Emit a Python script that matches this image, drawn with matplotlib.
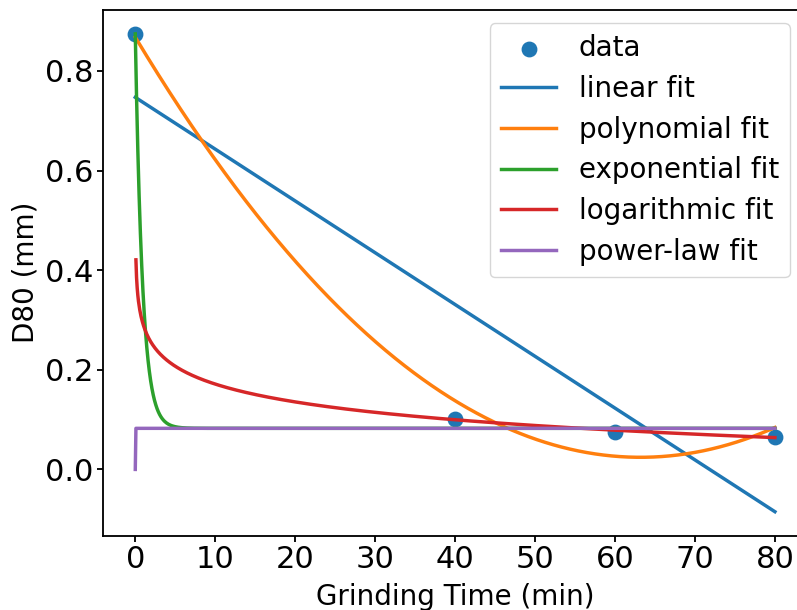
import numpy as np
import matplotlib
matplotlib.use("Agg")
import matplotlib.pyplot as plt

# data
time_min = np.array([0, 40, 60, 80], dtype=float)
d80_mm = np.array([0.874, 0.101, 0.0757, 0.0657])

# parameters of the non-linear fits
exp_params = [0.792, 1.1, 0.0825]      # a*exp(-b*t)+c
power_params = [0.0825, 0.0001]        # a*t**b

labels = ["data", "linear fit", "polynomial fit", "exponential fit",
          "logarithmic fit", "power-law fit"]

K = 1.65
plt.rcParams.update({
    "font.size": 20,
    "xtick.labelsize": 22,
    "ytick.labelsize": 22,
    "axes.labelsize": 20,
    "legend.fontsize": 20,
    "legend.labelspacing": 0.46,
    "lines.linewidth": 1.5 * K,
    "axes.linewidth": 0.8 * K,
    "xtick.major.size": 4.5,
    "ytick.major.size": 4.5,
    "xtick.major.width": 0.8 * K,
    "ytick.major.width": 0.8 * K,
    "xtick.major.pad": 2.5,
    "ytick.major.pad": 2.5,
})

fig = plt.figure(figsize=(7.97, 6.10), dpi=100)
W, H = 797, 610
left, right, top, bottom = 103.3, 806.9, 10.0, 535.6
ax = fig.add_axes([left / W, 1 - bottom / H, (right - left) / W, (bottom - top) / H])

t = np.linspace(0, 80, 1000)

lin = np.polyfit(time_min, d80_mm, 1)
poly = np.polyfit(time_min, d80_mm, 2)
pos = time_min > 0
logc = np.polyfit(np.log(time_min[pos]), d80_mm[pos], 1)

ax.scatter(time_min, d80_mm, s=(6.3 * K) ** 2, color="#1f77b4", label=labels[0])
ax.plot(t, np.polyval(lin, t), color="#1f77b4", label=labels[1])
ax.plot(t, np.polyval(poly, t), color="#ff7f0e", label=labels[2])
ax.plot(t, exp_params[0] * np.exp(-exp_params[1] * t) + exp_params[2],
        color="#2ca02c", label=labels[3])
tl = t[1:]
ax.plot(tl, logc[0] * np.log(tl) + logc[1], color="#d62728", label=labels[4])
ax.plot(t, power_params[0] * np.power(t, power_params[1]), color="#9467bd",
        label=labels[5])

ax.set_xticks(np.arange(0, 81, 10))
ax.set_yticks(np.arange(0, 0.81, 0.2))
ax.set_xlabel("Grinding Time (min)", labelpad=6)
ax.set_ylabel("D80 (mm)", labelpad=4)

ax.legend(loc="upper right", bbox_to_anchor=(790 / W, 1 - 23 / H),
          bbox_transform=fig.transFigure, borderaxespad=0)

fig.savefig("out.png", dpi=100)
